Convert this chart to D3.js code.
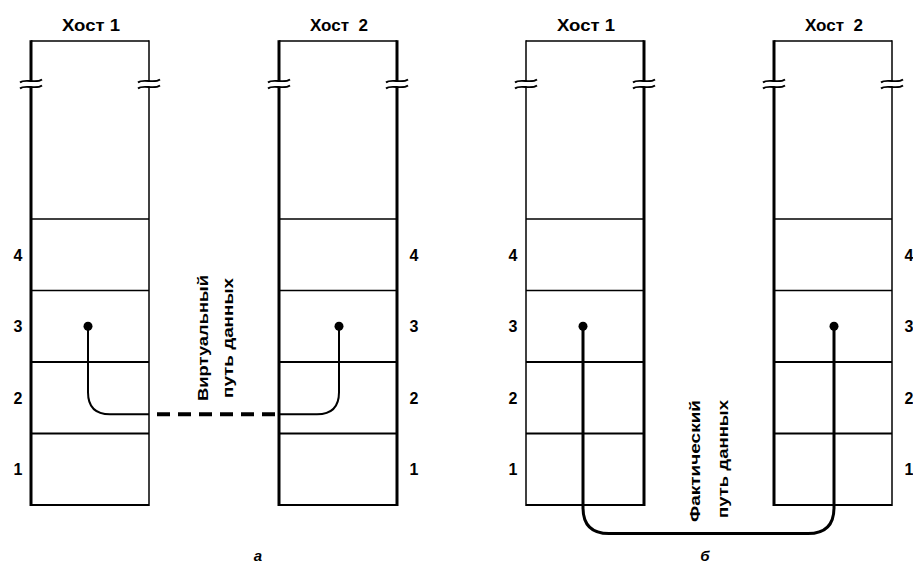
<!DOCTYPE html>
<html><head><meta charset="utf-8">
<script src="https://cdn.jsdelivr.net/npm/d3@7"></script>
<style>body{margin:0;background:#fff}svg{display:block}text{font-family:"Liberation Sans",Arial,sans-serif;fill:#000}</style>
</head><body><svg id="c" width="913" height="564"></svg>
<script>
// ---- data ----
const panels = ["а", "б"];
const hosts = ["Хост 1", "Хост  2"];
const layers = ["1", "2", "3", "4"];
const pathLabelsA = ["Виртуальный", "путь данных"];
const pathLabelsB = ["Фактический", "путь данных"];
// stroke weights of box sides [left,right] per panel per host
const sideWeights = [[[3, 1.5], [3, 3]], [[1.5, 3], [3, 1.5]]];

const svg = d3.select("#c");

// layer scale: level units -> y
const y = d3.scaleLinear().domain([0, 4]).range([505, 219]);
const topY = 41, breakY = 84;
// panel scale
const px = d3.scaleBand().domain(panels).range([0, 990]);
// host scale within a panel
const hx = d3.scaleOrdinal().domain(hosts).range([31, 279]);
const boxW = 118;

panels.forEach((p, pi) => {
  const g = svg.append("g").attr("transform", `translate(${px(p)},0)`);
  hosts.forEach((h, hi) => {
    const x0 = hx(h), x1 = x0 + boxW;
    g.append("text").attr("x", (x0 + x1) / 2 + 1).attr("y", 31)
      .attr("text-anchor", "middle").attr("font-size", 16).attr("font-weight", "bold")
      .attr("textLength", 58).attr("lengthAdjust", "spacingAndGlyphs")
      .style("white-space", "pre").text(h);
    g.append("line").attr("x1", x0).attr("x2", x1).attr("y1", topY).attr("y2", topY)
      .attr("stroke", "#000").attr("stroke-width", 1.6);
    [x0, x1].forEach((sx, si) => {
      const sw = sideWeights[pi][hi][si];
      g.append("line").attr("x1", sx).attr("x2", sx).attr("y1", topY - 0.8).attr("y2", breakY - 2.5)
        .attr("stroke", "#000").attr("stroke-width", sw);
      g.append("line").attr("x1", sx).attr("x2", sx).attr("y1", breakY + 2.5).attr("y2", y(0) + 1)
        .attr("stroke", "#000").attr("stroke-width", sw);
      [-3, 3].forEach(dy => {
        const yy = breakY + dy;
        g.append("path")
          .attr("d", `M${sx - 11},${yy + 1.5} C${sx - 6},${yy - 3} ${sx + 5},${yy + 3} ${sx + 11},${yy - 1.5}`)
          .attr("fill", "none").attr("stroke", "#000").attr("stroke-width", 1.8);
      });
    });
    [0, 1, 2, 3, 4].forEach(l => {
      g.append("line").attr("x1", x0).attr("x2", x1).attr("y1", y(l)).attr("y2", y(l))
        .attr("stroke", "#000").attr("stroke-width", l === 0 ? 2 : (l <= 2 ? 1.8 : 1.3));
    });
  });
  const lx = [18, 414];
  layers.forEach((lab, li) => {
    [0, 1].forEach(side => {
      g.append("text").attr("x", lx[side]).attr("y", y(li + 0.5) + 6)
        .attr("text-anchor", "middle").attr("font-size", 16).attr("font-weight", "bold").text(lab);
    });
  });
  g.append("text").attr("x", pi === 0 ? 258 : 210).attr("y", 561)
    .attr("text-anchor", "middle").attr("font-size", 15).attr("font-style", "italic").attr("font-weight", "bold").text(p);
});

const dotLevel = 2.5;
{
  const ox = px("а");
  const xa = ox + hx(hosts[0]) + 57, xb = ox + hx(hosts[1]) + 60;
  const yl = y(1.27), r = 22;
  const left = d3.path();
  left.moveTo(xa, y(dotLevel)); left.lineTo(xa, yl - r);
  left.quadraticCurveTo(xa, yl, xa + r, yl); left.lineTo(ox + hx(hosts[0]) + boxW, yl);
  svg.append("path").attr("d", left.toString()).attr("fill", "none").attr("stroke", "#000").attr("stroke-width", 2);
  const right = d3.path();
  right.moveTo(ox + hx(hosts[1]), yl); right.lineTo(xb - r, yl);
  right.quadraticCurveTo(xb, yl, xb, yl - r); right.lineTo(xb, y(dotLevel));
  svg.append("path").attr("d", right.toString()).attr("fill", "none").attr("stroke", "#000").attr("stroke-width", 2);
  svg.append("line").attr("x1", ox + hx(hosts[0]) + boxW + 8).attr("x2", ox + hx(hosts[1]))
    .attr("y1", yl).attr("y2", yl).attr("stroke", "#000").attr("stroke-width", 4).attr("stroke-dasharray", "13,8");
  [xa, xb].forEach(cx => svg.append("circle").attr("cx", cx).attr("cy", y(dotLevel)).attr("r", 4.5));
  const cols = [[208, 401, 126], [233, 398, 120]];
  pathLabelsA.forEach((t, i) => {
    svg.append("text").attr("transform", `translate(${cols[i][0]},${cols[i][1]}) rotate(-90)`)
      .attr("font-size", 15).attr("font-weight", "bold")
      .attr("textLength", cols[i][2]).attr("lengthAdjust", "spacingAndGlyphs").text(t);
  });
}
{
  const ox = px("б");
  const xa = ox + hx(hosts[0]) + 57, xb = ox + hx(hosts[1]) + 60;
  const yl = y(-0.4), r = 26;
  const p = d3.path();
  p.moveTo(xa, y(dotLevel)); p.lineTo(xa, yl - r);
  p.quadraticCurveTo(xa, yl, xa + r, yl); p.lineTo(xb - r, yl);
  p.quadraticCurveTo(xb, yl, xb, yl - r); p.lineTo(xb, y(dotLevel));
  svg.append("path").attr("d", p.toString()).attr("fill", "none").attr("stroke", "#000").attr("stroke-width", 3);
  [xa, xb].forEach(cx => svg.append("circle").attr("cx", cx).attr("cy", y(dotLevel)).attr("r", 4.5));
  const cols = [[700, 522, 122], [728, 518, 118]];
  pathLabelsB.forEach((t, i) => {
    svg.append("text").attr("transform", `translate(${cols[i][0]},${cols[i][1]}) rotate(-90)`)
      .attr("font-size", 15).attr("font-weight", "bold")
      .attr("textLength", cols[i][2]).attr("lengthAdjust", "spacingAndGlyphs").text(t);
  });
}
</script></body></html>
